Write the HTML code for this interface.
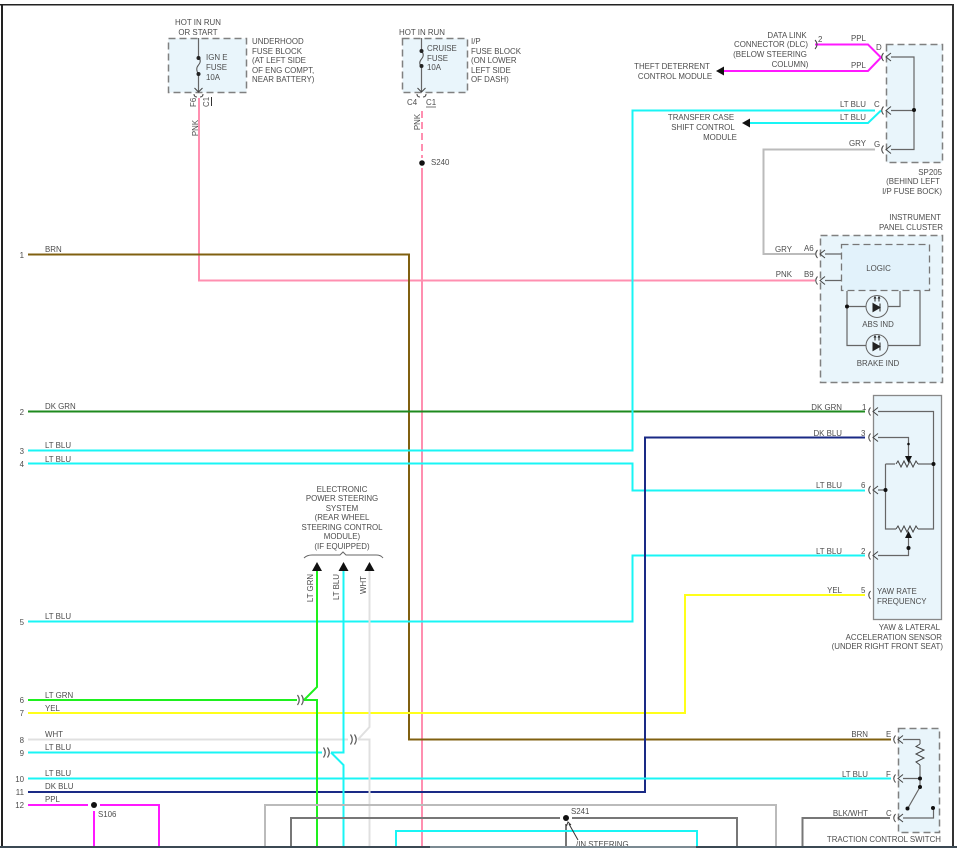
<!DOCTYPE html>
<html><head><meta charset="utf-8"><style>
html,body{margin:0;padding:0;background:#fff;width:957px;height:848px;overflow:hidden}
svg{display:block;filter:blur(0.3px)}
text{font-family:"Liberation Sans",sans-serif;font-size:7.9px;fill:#4d4d4d}
.m{text-anchor:middle}.e{text-anchor:end}
.w{fill:none;stroke-width:2}
.i{fill:none;stroke:#666;stroke-width:1.2}
.b{fill:#e9f5fb;stroke:#808080;stroke-width:1.5;stroke-dasharray:7 4}
</style></head><body>
<svg width="957" height="848" viewBox="0 0 957 848" xmlns="http://www.w3.org/2000/svg">
<defs>
<path id="c" d="M-2.5 -4Q-6 0 -2.5 4M5 -4L0 0L5 4" fill="none" stroke="#444" stroke-width="1"/>
<path id="p" d="M-2.5 -4Q-6 0 -2.5 4" fill="none" stroke="#444" stroke-width="1"/>
<path id="j" d="M-3.500 -5Q0 0 -3.500 5M0.500 -5Q4 0 0.500 5" fill="none" stroke="#555" stroke-width="1.200"/>
<g id="led"><path d="M-4 -4L3 0L-4 4ZM3 -4V4" fill="#222" stroke="#222" stroke-width="1"/><path d="M-2 -6V-10M2 -6V-10" stroke="#222" stroke-width="1"/><path d="M-3.500 -9L-2 -11.500L-0.500 -9ZM0.500 -9L2 -11.500L3.500 -9Z" fill="#222"/></g>
</defs>
<rect width="957" height="848" fill="#fff"/>
<!-- boxes -->
<rect class="b" x="168.500" y="38.500" width="78" height="54"/>
<rect class="b" x="402.500" y="38.500" width="65" height="54"/>
<rect class="b" x="886.500" y="44.500" width="56" height="118"/>
<rect class="b" x="820.500" y="235.500" width="122" height="147"/>
<rect x="841.500" y="244.500" width="88" height="46" fill="#e2f2fb" stroke="#777" stroke-width="1.300" stroke-dasharray="7 4"/>
<rect x="873.500" y="395.500" width="68" height="224" fill="#e9f5fb" stroke="#888" stroke-width="1.300"/>
<rect class="b" x="898.500" y="728.500" width="41" height="104"/>

<!-- wires -->
<path class="w" stroke="#ff8fb0" d="M199 98V280.500H815"/>
<path class="w" stroke="#ff8fb0" stroke-dasharray="7 4" d="M422 111V158"/>
<path class="w" stroke="#ff8fb0" d="M422 168V848"/>
<path class="w" stroke="#806010" d="M28 254.500H409V739.500H891"/>
<path class="w" stroke="#1e8a1e" d="M28 411.500H865"/>
<path class="w" stroke="#19f5f5" d="M28 450.500H632.500V110.500H875"/>
<path class="w" stroke="#19f5f5" d="M28 463.500H632.500V490.500H865"/>
<path class="w" stroke="#19f5f5" d="M28 621.500H632.500V555.500H865"/>
<path class="w" stroke="#ffff1a" d="M28 713H685V595H865"/>
<path class="w" stroke="#1a2a85" d="M28 792H645V437.500H865"/>
<path class="w" stroke="#19f5f5" d="M28 778.500H891"/>
<path class="w" stroke="#e0e0e0" d="M28 739.500H348M358 739.500H369.500V848M358 739.500L369.500 727V571"/>
<path class="w" stroke="#19f5f5" d="M28 752.500H322M331 752.500H343.500V571M331 752.500L343.500 765V848"/>
<path class="w" stroke="#1ef01e" d="M28 700H297M304 700H317V848M304 700L317 687V571"/>
<path class="w" stroke="#ff19ff" d="M28 805H88M100 805H159V848M94 811V848"/>
<path class="w" stroke="#bbb" d="M265 848V805H776V848"/>
<path class="w" stroke="#777" d="M291 848V818H560M572 818H737V848M566 824V848"/>
<path class="w" stroke="#19f5f5" d="M396 848V831H697V848"/>
<path class="w" stroke="#777" d="M890 818H802.500V848"/>
<path class="w" stroke="#bbb" d="M875 149.500H763.500V254H815"/>
<path class="w" stroke="#ff19ff" d="M815 44.500H868L881 57.500L868 71H722"/>
<path class="w" stroke="#19f5f5" d="M881 110.500L868 123H748"/>
<polygon points="716,71 724,66.500 724,75.500" fill="#111"/>
<polygon points="742,123 750,118.500 750,127.500" fill="#111"/>
<polygon points="317,562 312,571 322,571" fill="#111"/>
<polygon points="343.500,562 338.500,571 348.500,571" fill="#111"/>
<polygon points="369.500,562 364.500,571 374.500,571" fill="#111"/>
<path d="M304 558Q307 555 312 555H340L343 552L346 555H376Q381 555 383 558" fill="none" stroke="#666" stroke-width="1"/>

<!-- connectors -->
<use href="#c" x="886" y="57"/><use href="#c" x="886" y="110.500"/><use href="#c" x="886" y="149.500"/>
<use href="#c" x="820" y="254"/><use href="#c" x="820" y="280.500"/>
<use href="#c" x="873" y="411.500"/><use href="#c" x="873" y="437.500"/><use href="#c" x="873" y="490"/><use href="#c" x="873" y="555.500"/><use href="#p" x="873" y="595"/>
<use href="#c" x="898" y="739.500"/><use href="#c" x="898" y="778.500"/><use href="#c" x="898" y="818"/>
<use href="#j" x="301" y="700"/><use href="#j" x="327" y="752.500"/><use href="#j" x="354" y="739.500"/>
<path d="M815 40Q819 44.500 815 49" fill="none" stroke="#444" stroke-width="1"/>

<!-- inner SP205 -->
<path class="i" d="M891 57H914V149.500H891M891 110.500H914"/>
<circle cx="914" cy="110" r="2" fill="#111"/>

<!-- fuse blocks -->
<path class="i" d="M198.500 38V57M198.500 74V92M421.500 38V51M421.500 67V92"/>
<path d="M198.500 57Q202 61 198.500 65T198.500 74M421.500 51Q425 55 421.500 59T421.500 67" fill="none" stroke="#555" stroke-width="1"/>
<circle cx="198.500" cy="58" r="2" fill="#222"/><circle cx="198.500" cy="74" r="2" fill="#222"/>
<circle cx="421.500" cy="51" r="2" fill="#222"/><circle cx="421.500" cy="66" r="2" fill="#222"/>
<path d="M194.500 88L198.500 92L202.500 88M417.500 88L421.500 92L425.500 88M194 94Q194 97 197 97M203 94Q203 97 200 97M417 94Q417 97 420 97M426 94Q426 97 423 97" fill="none" stroke="#444" stroke-width="1"/>
<path d="M211.500 97V106" stroke="#333" stroke-width="1"/>
<path d="M426 107H436" stroke="#555" stroke-width="0.800"/>

<!-- cluster inner -->
<path class="i" d="M825 254H841M825 280.500H841M847 291V345.500H920V291M847 306.500H900V291"/>
<circle cx="847" cy="306.500" r="2" fill="#111"/>
<circle cx="877" cy="306.500" r="11" fill="#e9f5fb" stroke="#666"/>
<circle cx="877" cy="345.500" r="11" fill="#e9f5fb" stroke="#666"/>
<use href="#led" x="877" y="307.500"/><use href="#led" x="877" y="346.500"/>

<!-- yaw sensor inner -->
<path class="i" d="M878 411.500H933.500V529H918M878 437.500H908.500V458M885.500 464H895M918 464H933.500M885.500 464V529H896M878 490H885.500M878 555.500H908.500V536"/>
<path d="M896 464L898 461L901 467L904 461L907 467L910 461L913 467L916 461L918 464M896 529L898 526L901 532L904 526L907 532L910 526L913 532L916 526L918 529" fill="none" stroke="#444" stroke-width="1"/>
<polygon points="908.500,463 905,456 912,456" fill="#111"/>
<polygon points="908.500,531 905,538 912,538" fill="#111"/>
<circle cx="908.500" cy="444" r="1.300" fill="#111"/><circle cx="933.500" cy="464" r="2" fill="#111"/><circle cx="885.500" cy="490" r="2" fill="#111"/><circle cx="908.500" cy="548" r="2" fill="#111"/>

<!-- traction inner -->
<path class="i" d="M903 739.500H920M920 739.500V744M920 765V787M903 778.500H920M903 818H933.500V808M920 787L908 808"/>
<path d="M920 744L916 746.500L924 750L916 754L924 758L916 762L920 765" fill="none" stroke="#444" stroke-width="1"/>
<circle cx="920" cy="778.500" r="2" fill="#111"/><circle cx="920" cy="787" r="2" fill="#111"/><circle cx="907.500" cy="808.500" r="2" fill="#111"/><circle cx="933" cy="808" r="2" fill="#111"/>

<!-- splices -->
<circle cx="422" cy="163" r="2.800" fill="#111"/>
<circle cx="94" cy="805" r="3" fill="#111"/>
<circle cx="566" cy="818" r="3" fill="#111"/>
<path d="M578 840L569 824M566.500 826L568 822L571 825" fill="none" stroke="#333" stroke-width="1"/>

<!-- top labels -->
<text class="m" x="198" y="25">HOT IN RUN</text><text class="m" x="198" y="35">OR START</text>
<text x="252" y="44">UNDERHOOD</text><text x="252" y="54">FUSE BLOCK</text><text x="252" y="63">(AT LEFT SIDE</text><text x="252" y="73">OF ENG COMPT,</text><text x="252" y="82">NEAR BATTERY)</text>
<text x="206" y="60">IGN E</text><text x="206" y="70">FUSE</text><text x="206" y="80">10A</text>
<text class="m" x="422" y="35">HOT IN RUN</text>
<text x="471" y="44">I/P</text><text x="471" y="54">FUSE BLOCK</text><text x="471" y="63">(ON LOWER</text><text x="471" y="73">LEFT SIDE</text><text x="471" y="82">OF DASH)</text>
<text x="427" y="51">CRUISE</text><text x="427" y="61">FUSE</text><text x="427" y="70">10A</text>
<text transform="translate(196 107) rotate(-90)">F6</text>
<text transform="translate(209 107) rotate(-90)">C1</text>
<text x="407" y="105">C4</text><text x="426" y="105">C1</text>
<text class="m" transform="translate(198 128) rotate(-90)">PNK</text>
<text class="m" transform="translate(420 122) rotate(-90)">PNK</text>
<text x="431" y="165">S240</text>

<!-- left numbers -->
<text class="e" x="24" y="258">1</text><text class="e" x="24" y="415">2</text><text class="e" x="24" y="454">3</text><text class="e" x="24" y="467">4</text><text class="e" x="24" y="625">5</text><text class="e" x="24" y="703">6</text><text class="e" x="24" y="716">7</text><text class="e" x="24" y="743">8</text><text class="e" x="24" y="756">9</text><text class="e" x="24" y="782">10</text><text class="e" x="24" y="795">11</text><text class="e" x="24" y="808">12</text>
<text x="45" y="252">BRN</text><text x="45" y="409">DK GRN</text><text x="45" y="448">LT BLU</text><text x="45" y="462">LT BLU</text><text x="45" y="619">LT BLU</text><text x="45" y="698">LT GRN</text><text x="45" y="711">YEL</text><text x="45" y="737">WHT</text><text x="45" y="750">LT BLU</text><text x="45" y="776">LT BLU</text><text x="45" y="789">DK BLU</text><text x="45" y="802">PPL</text>
<text x="98" y="817">S106</text>

<!-- EPS -->
<text class="m" x="342" y="492">ELECTRONIC</text><text class="m" x="342" y="501">POWER STEERING</text><text class="m" x="342" y="511">SYSTEM</text><text class="m" x="342" y="520">(REAR WHEEL</text><text class="m" x="342" y="530">STEERING CONTROL</text><text class="m" x="342" y="539">MODULE)</text><text class="m" x="342" y="549">(IF EQUIPPED)</text>
<text class="m" transform="translate(313 588) rotate(-90)">LT GRN</text>
<text class="m" transform="translate(339 587) rotate(-90)">LT BLU</text>
<text class="m" transform="translate(366 585) rotate(-90)">WHT</text>

<!-- top right -->
<text class="m" x="787" y="38">DATA LINK</text><text class="m" x="771" y="47">CONNECTOR (DLC)</text><text class="m" x="770" y="57">(BELOW STEERING</text><text class="m" x="790" y="67">COLUMN)</text>
<text x="818" y="42">2</text><text x="851" y="41">PPL</text><text x="851" y="68">PPL</text><text x="876" y="50">D</text>
<text class="m" x="672" y="69">THEFT DETERRENT</text><text class="m" x="675" y="79">CONTROL MODULE</text>
<text class="m" x="701" y="120">TRANSFER CASE</text><text class="m" x="703" y="130">SHIFT CONTROL</text><text class="m" x="720" y="140">MODULE</text>
<text class="e" x="866" y="107">LT BLU</text><text class="e" x="866" y="120">LT BLU</text><text x="874" y="107">C</text><text x="874" y="147">G</text><text class="e" x="866" y="146">GRY</text>
<text class="e" x="942" y="175">SP205</text><text class="e" x="940" y="184">(BEHIND LEFT</text><text class="e" x="942" y="194">I/P FUSE BOCK)</text>
<text class="e" x="941" y="220">INSTRUMENT</text><text class="e" x="943" y="230">PANEL CLUSTER</text>
<text class="e" x="792" y="252">GRY</text><text x="804" y="251">A6</text><text class="e" x="792" y="277">PNK</text><text x="804" y="277">B9</text>
<text class="m" x="878.500" y="271">LOGIC</text>
<text class="m" x="878" y="327">ABS IND</text><text class="m" x="878" y="366">BRAKE IND</text>

<!-- yaw labels -->
<text class="e" x="842" y="410">DK GRN</text><text class="e" x="842" y="436">DK BLU</text><text class="e" x="842" y="488">LT BLU</text><text class="e" x="842" y="554">LT BLU</text><text class="e" x="842" y="593">YEL</text>
<text x="862" y="410">1</text><text x="861" y="436">3</text><text x="861" y="488">6</text><text x="861" y="554">2</text><text x="861" y="593">5</text>
<text x="877" y="594">YAW RATE</text><text x="877" y="604">FREQUENCY</text>
<text class="e" x="940" y="630">YAW &amp; LATERAL</text><text class="e" x="942" y="640">ACCELERATION SENSOR</text><text class="e" x="943" y="649">(UNDER RIGHT FRONT SEAT)</text>

<!-- traction labels -->
<text class="e" x="868" y="737">BRN</text><text x="886" y="737">E</text><text class="e" x="868" y="777">LT BLU</text><text x="886" y="777">F</text><text class="e" x="868" y="816">BLK/WHT</text><text x="886" y="816">C</text>
<text class="e" x="941" y="842">TRACTION CONTROL SWITCH</text>
<text x="571" y="814">S241</text>
<text x="576" y="847">/IN STEERING</text>

<!-- frame -->
<rect x="0" y="4" width="954" height="1.500" fill="#222"/>
<rect x="1" y="4" width="2" height="844" fill="#222"/>
<rect x="952" y="4" width="2" height="844" fill="#333"/>
<rect x="0" y="846" width="957" height="2" fill="#3b4953"/>
<rect x="430" y="846" width="266" height="2" fill="#7b8a92"/>
</svg>
</body></html>
